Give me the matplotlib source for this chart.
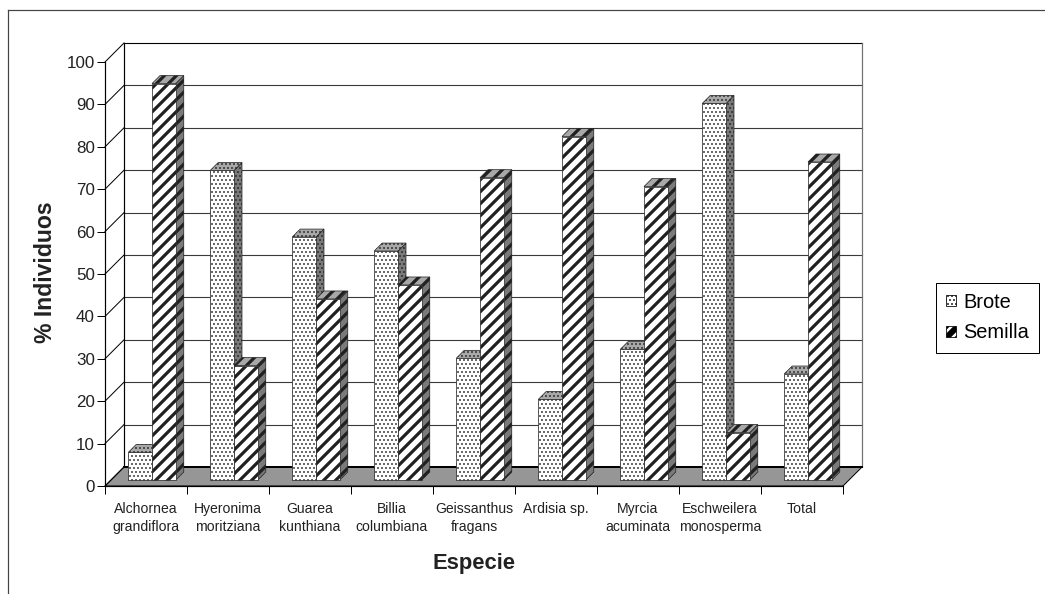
import matplotlib
matplotlib.use('Agg')
import matplotlib.pyplot as plt
from matplotlib.patches import Polygon, Patch
from matplotlib.lines import Line2D

# data (% of individuals per species)
especies = ['Alchornea\ngrandiflora', 'Hyeronima\nmoritziana', 'Guarea\nkunthiana',
            'Billia\ncolumbiana', 'Geissanthus\nfragans', 'Ardisia sp.',
            'Myrcia\nacuminata', 'Eschweilera\nmonosperma', 'Total']
brote = [6.5, 73.0, 57.3, 54.0, 28.7, 19.0, 30.8, 88.8, 25.0]
semilla = [93.5, 27.0, 42.7, 46.0, 71.3, 81.0, 69.2, 11.2, 75.0]
yticks = list(range(0, 101, 10))

plt.rcParams['font.family'] = ['Liberation Sans', 'DejaVu Sans']

W, H, DPI = 1045, 594, 72
fig = plt.figure(figsize=(W / DPI, H / DPI), dpi=DPI)

# front plane of the 3D box, in pixels
px0, px1, py0, py1 = 105, 843, 486, 62
depth_px = 19
n = len(especies)
ax = fig.add_axes([px0 / W, 1 - py0 / H, (px1 - px0) / W, (py0 - py1) / H])
ax.set_xlim(0, n)
ax.set_ylim(0, 100)
ax.set_facecolor('none')

# depth offset of the box in data units
dxd = depth_px / ((px1 - px0) / n)
dyd = depth_px / ((py0 - py1) / 100)

for s in ['top', 'right']:
    ax.spines[s].set_visible(False)
ax.spines['left'].set_linewidth(1.2)
ax.spines['bottom'].set_linewidth(1.2)

# floor
ax.add_patch(Polygon([(0, 0), (n, 0), (n + dxd, dyd), (dxd, dyd)], closed=True,
                     facecolor='#969696', edgecolor='black', lw=1, zorder=1, clip_on=False))
ax.plot([dxd, n + dxd], [dyd, dyd], color='black', lw=2, zorder=1.5, clip_on=False)

# back wall gridlines and left wall diagonals
for v in yticks[1:]:
    ax.plot([dxd, n + dxd], [v + dyd, v + dyd], color='black' if v == 100 else '#3a3a3a',
            lw=1.1, zorder=1, clip_on=False)
for v in yticks:
    ax.plot([0, dxd], [v, v + dyd], color='black', lw=1, zorder=1, clip_on=False)
ax.plot([dxd, dxd], [dyd, 100 + dyd], color='black', lw=1.2, zorder=1, clip_on=False)
ax.plot([n + dxd, n + dxd], [dyd, 100 + dyd], color='#707070', lw=1.2, zorder=1, clip_on=False)


def face(xy, fc, hatch, hlw, z):
    with plt.rc_context({'hatch.linewidth': hlw}):
        p = Polygon(xy, closed=True, facecolor=fc, edgecolor='#202020', lw=0.7,
                    hatch=hatch, zorder=z, clip_on=False)
    if hasattr(p, 'set_hatch_linewidth'):
        p.set_hatch_linewidth(hlw)
    ax.add_patch(p)


# 3D columns
w = 0.29
fshift = 0.316
bdepth = 0.42
ddx, ddy = bdepth * dxd, bdepth * dyd
styles = [(brote, '...', 0.95), (semilla, '//', 3.2)]
z = 3
for i in range(n):
    for j, (vals, hatch, hlw) in enumerate(styles):
        l = i + 0.5 - w + j * w + fshift * dxd
        r = l + w
        b = fshift * dyd
        t = b + vals[i]
        face([(r, b), (r + ddx, b + ddy), (r + ddx, t + ddy), (r, t)], '#7a7a7a', hatch, hlw, z)
        face([(l, t), (r, t), (r + ddx, t + ddy), (l + ddx, t + ddy)], '#a8a8a8', hatch, hlw, z)
        face([(l, b), (r, b), (r, t), (l, t)], 'white', hatch, hlw, z)
        z += 1

# axes ticks
ax.set_yticks(yticks)
ax.tick_params(axis='y', direction='out', length=8, width=1, pad=2, labelsize=17,
               labelcolor='#222222')
ax.set_xticks(range(n + 1))
ax.set_xticklabels([])
ax.tick_params(axis='x', which='major', direction='out', length=8, width=1)
ax.set_xticks([i + 0.5 for i in range(n)], minor=True)
ax.set_xticklabels(especies, minor=True, fontsize=14, linespacing=1.4, color='#222222')
ax.tick_params(axis='x', which='minor', length=0, pad=16)

fig.text(45.5 / W, 1 - 272.5 / H, '% Individuos', rotation=90, ha='center', va='center',
         fontsize=23, fontweight='bold', color='#222222')
fig.text(473.6 / W, 1 - 563 / H, 'Especie', ha='center', va='center',
         fontsize=22, fontweight='bold', color='#222222')

# legend
handles = [Patch(facecolor='white', edgecolor='black', hatch=hatch, lw=0.8, label=lab)
           for (vals, hatch, hlw), lab in zip(styles, ['Brote', 'Semilla'])]
leg = fig.legend(handles=handles, loc='center', bbox_to_anchor=(987.5 / W, 1 - 317.5 / H),
                 fontsize=20, handlelength=0.5, handleheight=0.5, handletextpad=0.35,
                 labelspacing=0.6, borderpad=0.5, fancybox=False, framealpha=1)
leg.get_frame().set_edgecolor('black')
leg.get_frame().set_linewidth(1)
for h, lw_h in zip(leg.legend_handles, [0.95, 6.0]):
    if hasattr(h, 'set_hatch_linewidth'):
        h.set_hatch_linewidth(lw_h)

# outer chart-area border (top and left only visible in the crop)
fig.add_artist(Line2D([8 / W, 8 / W], [0, 1 - 10 / H], color='#444444', lw=1.2))
fig.add_artist(Line2D([8 / W, 1], [1 - 10 / H, 1 - 10 / H], color='#444444', lw=1.2))

fig.savefig('out.png', dpi=DPI)
